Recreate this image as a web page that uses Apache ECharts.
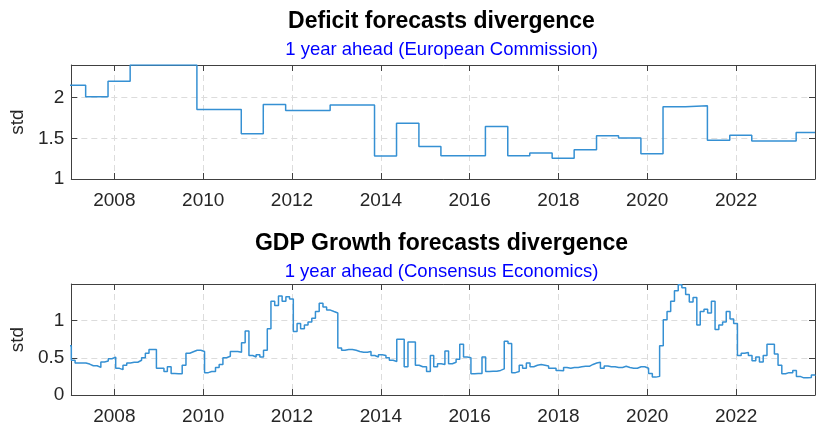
<!DOCTYPE html>
<html>
<head>
<meta charset="utf-8">
<script src="https://cdn.jsdelivr.net/npm/echarts@6/dist/echarts.min.js"></script>
<style>
  html, body { margin: 0; padding: 0; background: #ffffff; }
  #chart { width: 816px; height: 426px; }
</style>
</head>
<body>
<div id="chart"></div>
<script>
// Deficit forecast dispersion (European Commission): each value holds from its release date
const deficitDates = [
  '2006-11-10', '2007-05-10', '2007-11-10', '2008-05-10', '2008-11-10', '2009-05-10',
  '2009-11-10', '2010-05-10', '2010-11-10', '2011-05-10', '2011-11-10', '2012-05-10',
  '2012-11-10', '2013-05-10', '2013-11-10', '2014-05-10', '2014-11-10', '2015-05-10',
  '2015-11-10', '2016-05-10', '2016-11-10', '2017-05-10', '2017-11-10', '2018-05-10',
  '2018-11-10', '2019-05-10', '2019-11-10', '2020-05-10', '2020-11-10', '2021-05-10',
  '2021-11-10', '2022-05-10', '2022-11-10', '2023-05-10', '2023-10-12'
];
const deficitStd = [
  2.15, 2.01, 2.20, 2.40, 2.40, 2.40,
  1.855, 1.855, 1.557, 1.915, 1.84, 1.84,
  1.91, 1.91, 1.282, 1.685, 1.40, 1.286,
  1.286, 1.645, 1.286, 1.32, 1.254, 1.36,
  1.53, 1.505, 1.31, 1.887, 1.90, 1.476,
  1.536, 1.467, 1.467, 1.57, 1.57
];

// GDP growth forecast dispersion (Consensus Economics), monthly survey from Dec 2006
const gdpFirstYear = 2006;
const gdpFirstMonth = 12;
const gdpStd = [
  0.66,
  0.466, 0.43, 0.43, 0.43, 0.415, 0.393, 0.393, 0.37, 0.444, 0.457, 0.487, 0.509,
  0.358, 0.34, 0.40, 0.43, 0.44, 0.44, 0.466, 0.50, 0.56, 0.61, 0.61, 0.358,
  0.358, 0.315, 0.38, 0.29, 0.285, 0.285, 0.40, 0.56, 0.58, 0.60, 0.60, 0.585,
  0.30, 0.315, 0.315, 0.37, 0.41, 0.50, 0.52, 0.585, 0.585, 0.575, 0.70, 0.86,
  0.53, 0.51, 0.54, 0.51, 0.60, 0.89, 1.26, 1.20, 1.33, 1.26, 1.32, 1.29,
  0.854, 0.96, 0.89, 0.94, 0.98, 1.03, 1.12, 1.23, 1.18, 1.14, 1.12, 1.10,
  0.63, 0.60, 0.61, 0.61, 0.60, 0.585, 0.575, 0.575, 0.585, 0.53, 0.51, 0.54,
  0.53, 0.50, 0.466, 0.45, 0.75, 0.75, 0.38, 0.71, 0.71, 0.40, 0.38, 0.38,
  0.315, 0.53, 0.38, 0.42, 0.41, 0.59, 0.42, 0.44, 0.48, 0.68, 0.51, 0.50,
  0.285, 0.29, 0.29, 0.51, 0.315, 0.32, 0.32, 0.33, 0.35, 0.72, 0.69, 0.30,
  0.315, 0.40, 0.36, 0.43, 0.38, 0.40, 0.41, 0.40, 0.39, 0.36, 0.36, 0.33,
  0.325, 0.37, 0.36, 0.37, 0.37, 0.38, 0.385, 0.385, 0.41, 0.43, 0.44, 0.36,
  0.39, 0.38, 0.38, 0.37, 0.37, 0.385, 0.37, 0.36, 0.36, 0.38, 0.38, 0.36,
  0.29, 0.24, 0.25, 0.66, 1.01, 1.12, 1.26, 1.40, 1.48, 1.44, 1.35, 1.25,
  1.31, 0.94, 1.12, 1.15, 1.10, 1.26, 0.88, 0.94, 0.98, 1.12, 1.02, 0.96,
  0.53, 0.56, 0.57, 0.53, 0.46, 0.51, 0.444, 0.53, 0.68, 0.68, 0.55, 0.40,
  0.285, 0.30, 0.30, 0.33, 0.25, 0.23, 0.23, 0.235, 0.27, 0.26
];

// Axis settings
const tickYears = [2008, 2010, 2012, 2014, 2016, 2018, 2020, 2022];
const xStart = '2007-01-12';
const xEnd = '2023-10-12';
const deficitRange = [1, 2.4];
const gdpRange = [0, 1.49];
const yStep = 0.5;

const panelTitles = ['Deficit forecasts divergence', 'GDP Growth forecasts divergence'];
const panelSubtitles = ['1 year ahead (European Commission)', '1 year ahead (Consensus Economics)'];
const yName = 'std';

// Dates become epoch milliseconds on a numeric axis
const toMs = s => {
  const p = s.split('-').map(Number);
  return Date.UTC(p[0], p[1] - 1, p[2]);
};
const pad2 = n => (n < 10 ? '0' : '') + n;
const gdpDates = gdpStd.map((_, i) => {
  const k = gdpFirstMonth - 1 + i;
  return (gdpFirstYear + Math.floor(k / 12)) + '-' + pad2((k % 12) + 1) + '-12';
});

const tickValues = tickYears.map(y => Date.UTC(y, 0, 1));
const xMin = toMs(xStart);
const xMax = toMs(xEnd);

const axisColor = '#404040';
const textColor = '#262626';
const gridColor = '#dcdcdc';
const lineColor = '#3590d3';
const font = 'Liberation Sans, Arial, sans-serif';

function xAxisFor(gridIndex, onTop) {
  return {
    type: 'value',
    gridIndex: gridIndex,
    position: onTop ? 'top' : 'bottom',
    min: xMin,
    max: xMax,
    axisLine: { show: true, onZero: false, lineStyle: { color: axisColor, width: 1 } },
    axisTick: { show: true, inside: true, length: 6, customValues: tickValues,
                lineStyle: { color: axisColor, width: 1 } },
    axisLabel: {
      show: !onTop,
      customValues: tickValues,
      formatter: v => String(new Date(v).getUTCFullYear()),
      margin: 12,
      color: textColor,
      fontSize: 19,
      fontFamily: font
    },
    splitLine: { show: !onTop, lineStyle: { type: [6, 4], color: gridColor, width: 1 } }
  };
}

function yAxisFor(gridIndex, range, onRight) {
  return {
    type: 'value',
    gridIndex: gridIndex,
    position: onRight ? 'right' : 'left',
    min: range[0],
    max: range[1],
    interval: yStep,
    name: onRight ? '' : yName,
    nameLocation: 'middle',
    nameGap: 39,
    nameTextStyle: { color: textColor, fontSize: 19, fontFamily: font },
    axisLine: { show: true, onZero: false, lineStyle: { color: axisColor, width: 1 } },
    axisTick: { show: true, inside: true, length: 6, lineStyle: { color: axisColor, width: 1 } },
    axisLabel: {
      show: !onRight,
      showMaxLabel: false,
      margin: 7,
      color: textColor,
      fontSize: 19,
      fontFamily: font
    },
    splitLine: { show: !onRight, lineStyle: { type: [6, 4], color: gridColor, width: 1 } }
  };
}

function titlesFor(i, offset) {
  return [
    {
      text: panelTitles[i], left: 441.5, top: 10 + offset, textAlign: 'center', padding: 0,
      textStyle: { fontSize: 23, fontWeight: 'bold', color: '#000000', fontFamily: font }
    },
    {
      text: panelSubtitles[i], left: 441.5, top: 40 + offset, textAlign: 'center', padding: 0,
      textStyle: { fontSize: 18.5, fontWeight: 'normal', color: '#0000ff', fontFamily: font }
    }
  ];
}

const chart = echarts.init(document.getElementById('chart'), null, { renderer: 'canvas' });
chart.setOption({
  animation: false,
  backgroundColor: '#ffffff',
  title: titlesFor(0, 0).concat(titlesFor(1, 222)),
  grid: [
    { left: 68, right: 1, top: 65, height: 114 },
    { left: 68, right: 1, top: 284, height: 115 }
  ],
  xAxis: [xAxisFor(0, false), xAxisFor(0, true), xAxisFor(1, false), xAxisFor(1, true)],
  yAxis: [yAxisFor(0, deficitRange, false), yAxisFor(0, deficitRange, true),
          yAxisFor(1, gdpRange, false), yAxisFor(1, gdpRange, true)],
  series: [
    {
      type: 'line', xAxisIndex: 0, yAxisIndex: 0, step: 'end',
      showSymbol: false, symbol: 'none',
      data: deficitDates.map((d, i) => [toMs(d), deficitStd[i]]),
      lineStyle: { color: lineColor, width: 1.5 }
    },
    {
      type: 'line', xAxisIndex: 2, yAxisIndex: 2, step: 'end',
      showSymbol: false, symbol: 'none',
      data: gdpDates.map((d, i) => [toMs(d), gdpStd[i]]),
      lineStyle: { color: lineColor, width: 1.5 }
    }
  ]
});
</script>
</body>
</html>
